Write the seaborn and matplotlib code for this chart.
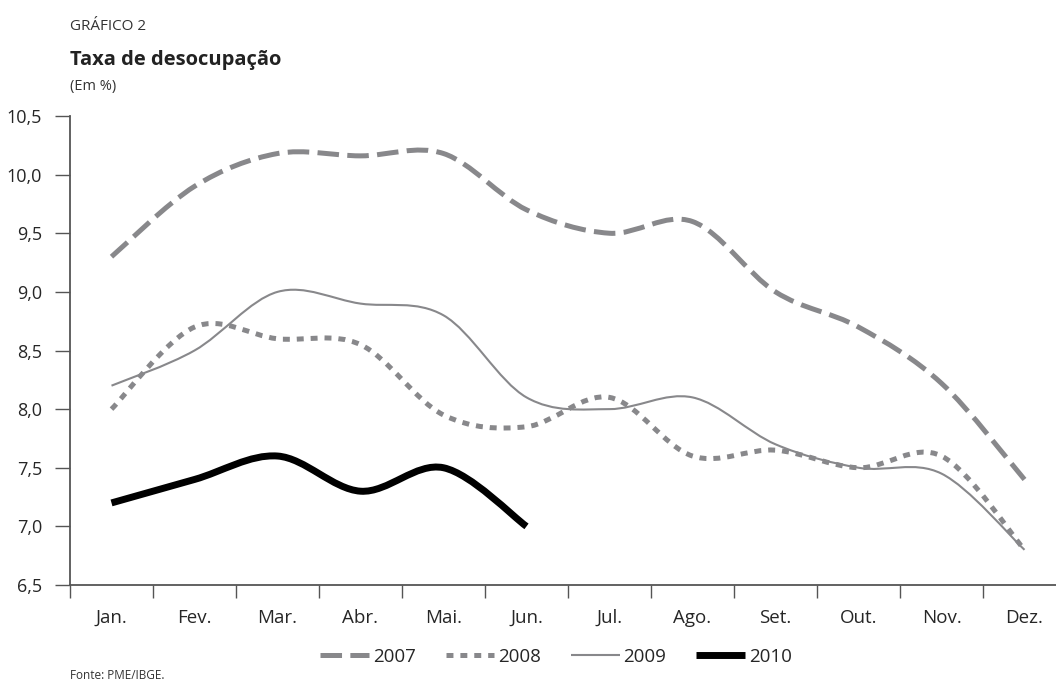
import numpy as np
import pandas as pd
import seaborn as sns
import matplotlib
matplotlib.use("Agg")
import matplotlib.pyplot as plt
from matplotlib.lines import Line2D
from matplotlib.path import Path
from matplotlib.patches import PathPatch

months = ["Jan.", "Fev.", "Mar.", "Abr.", "Mai.", "Jun.", "Jul.", "Ago.", "Set.", "Out.", "Nov.", "Dez."]
s2007 = [9.3, 9.9, 10.18, 10.16, 10.18, 9.7, 9.5, 9.6, 9.0, 8.7, 8.22, 7.4]
s2008 = [8.0, 8.7, 8.6, 8.55, 7.95, 7.85, 8.1, 7.6, 7.65, 7.5, 7.6, 6.8]
s2009 = [8.2, 8.5, 9.0, 8.9, 8.8, 8.1, 8.0, 8.1, 7.7, 7.5, 7.45, 6.8]
s2010 = [7.2, 7.4, 7.6, 7.3, 7.5, 7.0]
yticks = [6.5, 7.0, 7.5, 8.0, 8.5, 9.0, 9.5, 10.0, 10.5]

sns.set_style("white")
plt.rcParams["font.family"] = ["Open Sans", "DejaVu Sans"]
plt.rcParams["lines.scale_dashes"] = False

GREY = "#88888b"
AX = "#555555"

rows = []
for name, vals in [("2007", s2007), ("2008", s2008), ("2009", s2009), ("2010", s2010)]:
    for i, v in enumerate(vals):
        rows.append({"serie": name, "x": i, "mes": months[i], "valor": v})
df = pd.DataFrame(rows)

styles = {
    "2007": dict(color=GREY, lw=3.6, dashes=(15.5, 6)),
    "2008": dict(color=GREY, lw=3.6, dashes=(5, 5)),
    "2009": dict(color=GREY, lw=1.5, dashes=None),
    "2010": dict(color="black", lw=5.0, dashes=None),
}


def smooth_path(xy):
    """Cubic Bezier path through the data points (spreadsheet-style smoothing)."""
    pts = np.asarray(xy, dtype=float)
    n = len(pts)
    verts = [pts[0]]
    codes = [Path.MOVETO]
    for i in range(n - 1):
        p0 = pts[i - 1] if i > 0 else pts[i]
        p1 = pts[i]
        p2 = pts[i + 1]
        p3 = pts[i + 2] if i + 2 < n else pts[i + 1]
        c1 = p1 + (p2 - p0) / 6.0
        c2 = p2 - (p3 - p1) / 6.0
        verts += [c1, c2, p2]
        codes += [Path.CURVE4] * 3
    return Path(verts, codes)


fig = plt.figure(figsize=(10.56, 6.82), dpi=100)
ax = fig.add_axes([70 / 1056, 1 - 585 / 682, 996 / 1056, 469 / 682])

for name in ["2007", "2008", "2009", "2010"]:
    st = styles[name]
    sub = df[df["serie"] == name]
    sns.lineplot(data=sub, x="x", y="valor", ax=ax, color=st["color"], linewidth=st["lw"],
                 legend=False)
    line = ax.get_lines()[-1]
    line.set_visible(False)
    patch = PathPatch(smooth_path(line.get_xydata()), transform=ax.transData, fill=False,
                      edgecolor=st["color"], linewidth=st["lw"], capstyle="butt", joinstyle="round")
    if st["dashes"] is not None:
        patch.set_linestyle((0, st["dashes"]))
    ax.add_patch(patch)

ax.set_xlim(-0.5, 11.5)
ax.set_ylim(6.5, 10.5)
ax.set_yticks(yticks)
ax.set_yticklabels([f"{t:.1f}".replace(".", ",") for t in yticks], fontsize=13)
ax.set_xticks(range(len(months)))
ax.set_xticklabels(months, fontsize=13.5)
ax.set_xticks(np.arange(-0.5, 11.5, 1.0), minor=True)
ax.tick_params(axis="x", which="major", bottom=True, length=0, pad=17)
ax.tick_params(axis="x", which="minor", bottom=True, length=9.5, width=1.0, color=AX)
ax.tick_params(axis="y", which="major", left=True, length=11, width=1.0, color=AX, pad=9)
ax.set_xlabel("")
ax.set_ylabel("")
for s in ["top", "right"]:
    ax.spines[s].set_visible(False)
for s in ["left", "bottom"]:
    ax.spines[s].set_color(AX)
    ax.spines[s].set_linewidth(1.3)

handles = []
for name in ["2007", "2008", "2009", "2010"]:
    st = styles[name]
    h = Line2D([], [], color=st["color"], linewidth=st["lw"], solid_capstyle="butt", dash_capstyle="butt")
    if st["dashes"] is not None:
        h.set_dashes(st["dashes"])
    handles.append(h)
fig.legend(handles, ["2007", "2008", "2009", "2010"], loc="center", bbox_to_anchor=(556 / 1056, 1 - 657 / 682),
           ncol=4, frameon=False, fontsize=13.5, handlelength=2.6, handletextpad=0.2, columnspacing=1.6)

fig.text(70 / 1056, 1 - 30 / 682, "GRÁFICO 2", fontsize=11, color="#333333", va="baseline")
fig.text(70 / 1056, 1 - 65 / 682, "Taxa de desocupação", fontsize=14.5, fontweight="bold", color="#222222", va="baseline")
fig.text(70 / 1056, 1 - 90 / 682, "(Em %)", fontsize=10.5, color="#333333", va="baseline")
fig.text(70 / 1056, 1 - 679 / 682, "Fonte: PME/IBGE.", fontsize=8.5, color="#333333", va="baseline")

fig.savefig("out.png", dpi=100)
